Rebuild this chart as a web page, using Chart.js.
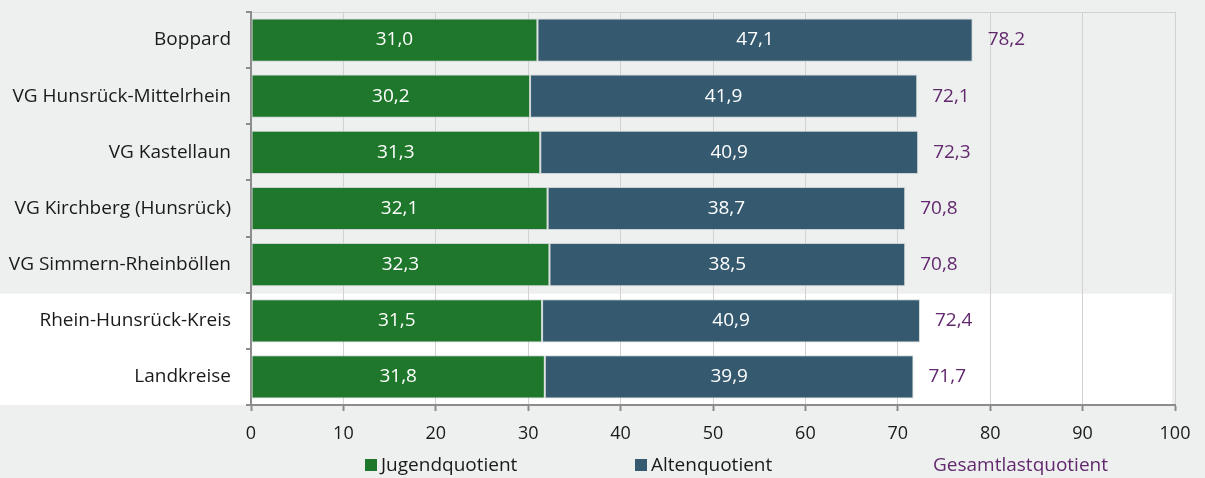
<!DOCTYPE html>
<html lang="de">
<head>
<meta charset="utf-8">
<title>Jugend-, Alten- und Gesamtlastquotient</title>
<script src="https://cdn.jsdelivr.net/npm/chart.js@4.4.1/dist/chart.umd.min.js"></script>
<style>
    html, body { margin: 0; padding: 0; background: #eef0ef; }
    #wrap { position: relative; width: 1205px; height: 478px; font-family: "Open Sans", sans-serif; }
    #chart { position: absolute; left: 0; top: 0; }
    .legend-item { position: absolute; top: 451px; font-size: 19px; line-height: 26px; color: #1a1a1a; white-space: nowrap; }
    .legend-box { display: inline-block; width: 12px; height: 12px; margin-right: 4px; vertical-align: 0px; }
</style>
</head>
<body>
<div id="wrap">
    <canvas id="chart" width="1205" height="478"></canvas>
    <div class="legend-item" style="left:365px"><span class="legend-box" style="background:#1e772b"></span>Jugendquotient</div>
    <div class="legend-item" style="left:635px"><span class="legend-box" style="background:#355a70"></span>Altenquotient</div>
    <div class="legend-item" style="left:933px; color:#62286e">Gesamtlastquotient</div>
</div>
<script>
const categories = [
    'Boppard',
    'VG Hunsrück-Mittelrhein',
    'VG Kastellaun',
    'VG Kirchberg (Hunsrück)',
    'VG Simmern-Rheinböllen',
    'Rhein-Hunsrück-Kreis',
    'Landkreise'
];
const jugendquotient = [31.0, 30.2, 31.3, 32.1, 32.3, 31.5, 31.8];
const altenquotient = [47.1, 41.9, 40.9, 38.7, 38.5, 40.9, 39.9];
const gesamtlastquotient = [78.2, 72.1, 72.3, 70.8, 70.8, 72.4, 71.7];
const xMin = 0;
const xMax = 100;
const xStep = 10;

// rows drawn on a white band (district and state comparison)
const highlightRows = [5, 6];

const GREEN = '#1e772b';
const BLUE = '#355a70';
const PURPLE = '#62286e';
const FONT = '"Open Sans", sans-serif';

const fmt = v => v.toFixed(1).replace('.', ',');

const bandPlugin = {
    id: 'band',
    beforeDraw(chart) {
        const { ctx, chartArea, scales } = chart;
        const y = scales.y;
        const half = (y.getPixelForValue(1) - y.getPixelForValue(0)) / 2;
        const top = y.getPixelForValue(highlightRows[0]) - half;
        const bottom = y.getPixelForValue(highlightRows[highlightRows.length - 1]) + half;
        ctx.save();
        ctx.fillStyle = '#ffffff';
        ctx.fillRect(0, top + 1, chartArea.right - 3, bottom - top - 1);
        // top frame line
        ctx.strokeStyle = '#d2d2d2';
        ctx.lineWidth = 1;
        ctx.beginPath();
        ctx.moveTo(chartArea.left, chartArea.top + 0.5);
        ctx.lineTo(chartArea.right, chartArea.top + 0.5);
        ctx.stroke();
        ctx.restore();
    }
};

const labelPlugin = {
    id: 'barLabels',
    afterDatasetsDraw(chart) {
        const { ctx } = chart;
        ctx.save();
        ctx.font = '19px ' + FONT;
        ctx.textBaseline = 'middle';

        // values inside each segment
        ctx.fillStyle = '#ffffff';
        ctx.textAlign = 'center';
        chart.data.datasets.forEach((ds, i) => {
            chart.getDatasetMeta(i).data.forEach((bar, j) => {
                ctx.fillText(fmt(ds.data[j]), (bar.x + bar.base) / 2, bar.y);
            });
        });

        // totals right of the stack
        const last = chart.getDatasetMeta(chart.data.datasets.length - 1);
        ctx.fillStyle = PURPLE;
        ctx.textAlign = 'left';
        last.data.forEach((bar, j) => {
            ctx.fillText(fmt(gesamtlastquotient[j]), bar.x + 15, bar.y);
        });
        ctx.restore();
    }
};

new Chart(document.getElementById('chart'), {
    type: 'bar',
    data: {
        labels: categories,
        datasets: [
            {
                label: 'Jugendquotient',
                data: jugendquotient,
                backgroundColor: GREEN,
                borderColor: 'rgba(190, 200, 200, 0.7)',
                borderWidth: 1,
                borderSkipped: false
            },
            {
                label: 'Altenquotient',
                data: altenquotient,
                backgroundColor: BLUE,
                borderColor: 'rgba(190, 200, 200, 0.7)',
                borderWidth: 1,
                borderSkipped: false
            }
        ]
    },
    options: {
        indexAxis: 'y',
        responsive: false,
        animation: false,
        devicePixelRatio: 1,
        barPercentage: 0.77,
        categoryPercentage: 1,
        layout: { padding: { top: 12, right: 30, left: 0, bottom: 0 } },
        plugins: {
            legend: { display: false },
            tooltip: { enabled: false }
        },
        scales: {
            x: {
                stacked: true,
                min: xMin,
                max: xMax,
                ticks: {
                    stepSize: xStep,
                    padding: 12,
                    color: '#1a1a1a',
                    font: { family: FONT, size: 18 }
                },
                grid: {
                    color: '#d2d2d2',
                    lineWidth: 1,
                    tickColor: '#8c8c8c',
                    tickWidth: 2,
                    tickLength: 6
                },
                border: { color: '#8c8c8c', width: 2 },
                afterFit(scale) { scale.height = 73; }
            },
            y: {
                stacked: true,
                ticks: {
                    padding: 15,
                    color: '#1a1a1a',
                    font: { family: FONT, size: 19 }
                },
                grid: {
                    drawOnChartArea: false,
                    color: '#8c8c8c',
                    lineWidth: 2,
                    tickLength: 5
                },
                border: { color: '#8c8c8c', width: 2 },
                afterFit(scale) {
                    scale.width = 251;
                    // rows fill the full height; no extra room for label overhang
                    scale.paddingTop = 0;
                    scale.paddingBottom = 0;
                }
            }
        }
    },
    plugins: [bandPlugin, labelPlugin]
});
</script>
</body>
</html>
